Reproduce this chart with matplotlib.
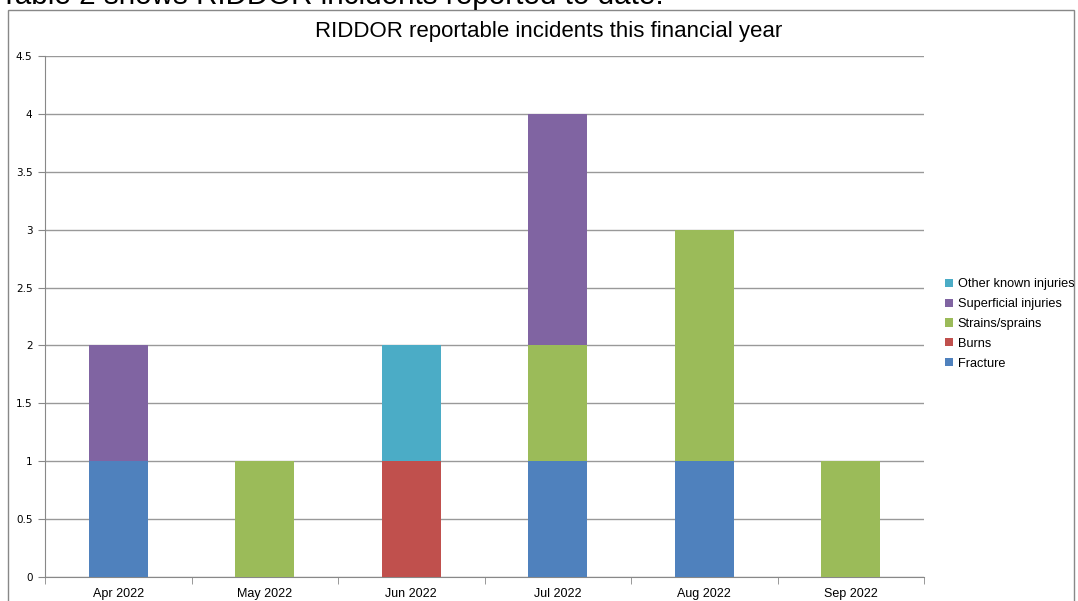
"""RIDDOR reportable incidents - stacked bar chart."""
import numpy as np
import matplotlib.pyplot as plt
from matplotlib.patches import Rectangle

months = ["Apr 2022", "May 2022", "Jun 2022", "Jul 2022", "Aug 2022", "Sep 2022"]
fracture = [1, 0, 0, 1, 1, 0]
burns = [0, 0, 1, 0, 0, 0]
strains = [0, 1, 0, 1, 2, 1]
superficial = [1, 0, 0, 2, 0, 0]
other = [0, 0, 1, 0, 0, 0]

series = [
    ("Fracture", fracture, "#4F81BD"),
    ("Burns", burns, "#C0504D"),
    ("Strains/sprains", strains, "#9BBB59"),
    ("Superficial injuries", superficial, "#8064A2"),
    ("Other known injuries", other, "#4BACC6"),
]

plt.rcParams["font.family"] = ["Liberation Sans", "DejaVu Sans"]

fig = plt.figure(figsize=(10.78, 6.01), dpi=100)
W, H = 1078, 601

# outer chart frame
fig.patches.append(Rectangle((8 / W, -0.01), (1074 - 8) / W, 1 - 10 / H + 0.01,
                             transform=fig.transFigure, fill=False,
                             edgecolor="#888888", linewidth=1.0))

# heading above the chart, cut by the top edge as in the source
fig.text(0 / W, 1 - 4 / H, "Table 2 shows RIDDOR incidents reported to date.",
         fontsize=21.3, ha="left", va="baseline")

ax = fig.add_axes([45 / W, 24 / H, (924 - 45) / W, (577 - 56) / H])
x = np.arange(len(months))
bottom = np.zeros(len(months))
handles = []
for name, vals, color in series:
    v = np.array(vals, dtype=float)
    b = ax.bar(x, v, width=0.4, bottom=bottom, color=color, label=name, zorder=3)
    handles.append(b)
    bottom += v

ax.set_xlim(-0.5, len(months) - 0.5)
ax.set_ylim(0, 4.5)
ax.set_yticks(np.arange(0, 4.51, 0.5))
ax.set_yticklabels(["0", "0.5", "1", "1.5", "2", "2.5", "3", "3.5", "4", "4.5"],
                   family=["DejaVu Sans"], fontsize=7.5)
ax.set_xticks(x)
ax.set_xticklabels(months, fontsize=9)
ax.set_xticks(np.arange(-0.5, len(months), 1.0), minor=True)
ax.tick_params(axis="x", which="major", length=0, pad=8)
ax.tick_params(axis="x", which="minor", length=5, color="#888888")
ax.tick_params(axis="y", length=5, color="#888888", pad=4)
ax.grid(True, axis="y", color="#999999", linewidth=1.0, zorder=0)
for s in ["top", "right"]:
    ax.spines[s].set_visible(False)
ax.spines["left"].set_color("#888888")
ax.spines["bottom"].set_color("#888888")

fig.text(549 / W, 1 - 31 / H, "RIDDOR reportable incidents this financial year",
         fontsize=16, ha="center", va="center")

fig.legend(handles[::-1], [s[0] for s in series][::-1], loc="center left",
           bbox_to_anchor=(940 / W, 1 - 324 / H), frameon=False, fontsize=9.2,
           handlelength=0.6, handleheight=0.6, handletextpad=0.4, labelspacing=0.62,
           borderaxespad=0)

fig.savefig("out.png", dpi=100)
